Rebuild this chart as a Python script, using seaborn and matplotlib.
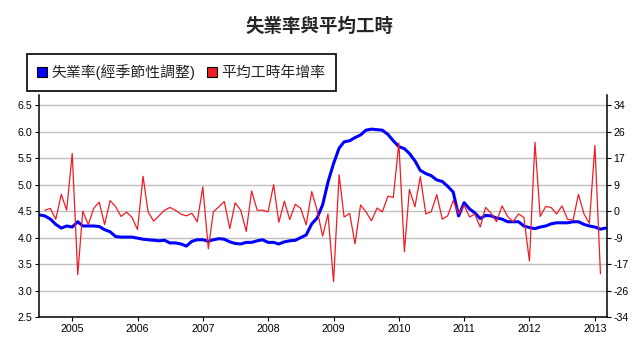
import pandas as pd
import matplotlib.pyplot as plt
import matplotlib.dates as mdates
from matplotlib.patches import Patch
import seaborn as sns

sns.set_style("ticks")
plt.rcParams['font.family'] = ['Liberation Sans', 'Noto Sans CJK TC', 'DejaVu Sans']

title = "失業率與平均工時"
label_unemp = "失業率(經季節性調整)"
label_hours = "平均工時年增率"

# seasonally adjusted unemployment rate (%), monthly from 2004-07 (left axis)
unemp_start = "2004-07-01"
unemp = [
    4.43, 4.41, 4.35, 4.25, 4.18, 4.22,
    4.20, 4.30, 4.22, 4.22, 4.22, 4.21, 4.15, 4.11, 4.02, 4.01, 4.01, 4.01,
    3.99, 3.97, 3.96, 3.95, 3.94, 3.95, 3.90, 3.90, 3.88, 3.84, 3.93, 3.96,
    3.96, 3.93, 3.96, 3.98, 3.97, 3.92, 3.89, 3.88, 3.91, 3.91, 3.94, 3.96,
    3.91, 3.91, 3.88, 3.92, 3.94, 3.95, 4.00, 4.05, 4.26, 4.37, 4.62, 5.05,
    5.40, 5.69, 5.81, 5.83, 5.89, 5.94, 6.03, 6.05, 6.04, 6.03, 5.95, 5.83,
    5.72, 5.68, 5.59, 5.45, 5.27, 5.21, 5.17, 5.09, 5.06, 4.97, 4.86, 4.41,
    4.66, 4.54, 4.47, 4.36, 4.42, 4.41, 4.37, 4.35, 4.30, 4.30, 4.30, 4.22,
    4.19, 4.17, 4.20, 4.22, 4.26, 4.28, 4.28, 4.28, 4.30, 4.30, 4.25, 4.22,
    4.20, 4.16, 4.18,
]

# average working hours, year-on-year change (%), monthly from 2004-08 (right axis)
hours_start = "2004-08-01"
hours_yoy = [
    0.3, 0.9, -2.6, 5.4, 0.3,
    18.5, -20.4, 0.0, -4.3, 0.9, 2.9, -4.3, 3.4, 1.4, -1.7, -0.3, -2.0,
    -5.9, 11.2, -0.2, -3.2, -1.5, 0.3, 1.2, 0.3, -1.0, -1.5, -0.7, -3.4,
    7.8, -12.1, -0.2, 1.4, 3.1, -5.6, 2.7, 0.3, -6.5, 6.5, 0.3, 0.3,
    -0.2, 8.5, -3.6, 3.2, -2.7, 2.2, 0.9, -4.4, 6.3, 0.3, -8.0, -0.9,
    -22.6, 11.7, -1.9, -0.7, -10.5, 2.0, -0.2, -3.1, 1.0, -0.2, 4.8, 4.4,
    21.9, -13.0, 7.0, 1.4, 11.1, -0.9, -0.2, 5.3, -2.6, -1.5, 3.4, -0.9,
    1.9, -1.9, -0.9, -5.1, 1.2, -0.7, -3.4, 1.7, -1.7, -3.4, -0.9, -2.0,
    -16.0, 22.1, -1.7, 1.5, 1.2, -0.9, 1.7, -2.6, -2.9, 5.4, -0.9, -3.9,
    21.1, -20.1,
]

left_ticks = [2.5, 3.0, 3.5, 4.0, 4.5, 5.0, 5.5, 6.0, 6.5]
right_ticks = [-34, -25.5, -17, -8.5, 0, 8.5, 17, 25.5, 34]
right_labels = ["-34", "-26", "-17", "-9", "0", "9", "17", "26", "34"]
years = list(range(2005, 2014))

df_u = pd.DataFrame({
    "date": pd.date_range(unemp_start, periods=len(unemp), freq="MS"),
    "rate": unemp,
})
df_h = pd.DataFrame({
    "date": pd.date_range(hours_start, periods=len(hours_yoy), freq="MS"),
    "yoy": hours_yoy,
})

blue = "#0000ff"
red = "#f01c24"

fig = plt.figure(figsize=(6.38, 3.51), dpi=100)
ax = fig.add_axes([39.3 / 638, 34 / 351, 567.4 / 638, 222 / 351])
ax2 = ax.twinx()

sns.lineplot(data=df_u, x="date", y="rate", ax=ax, color=blue, linewidth=2.2)
sns.lineplot(data=df_h, x="date", y="yoy", ax=ax2, color=red, linewidth=0.9)

# left / right scales line up: 4.5 <-> 0, 0.5 <-> 8.5
ylo, yhi = 2.5, 6.695
ax.set_ylim(ylo, yhi)
ax2.set_ylim((ylo - 4.5) * 17, (yhi - 4.5) * 17)
ax.set_xlim(pd.Timestamp("2004-07-01"), pd.Timestamp("2013-03-08"))

ax.set_yticks(left_ticks)
ax.set_yticklabels([f"{t:.1f}" for t in left_ticks])
ax2.set_yticks(right_ticks)
ax2.set_yticklabels(right_labels)
ax.set_xticks([pd.Timestamp(f"{y}-01-01") for y in years])
ax.xaxis.set_major_formatter(mdates.DateFormatter("%Y"))

ax.yaxis.grid(True, color="#c0c0c0", linewidth=1.0)
ax.set_axisbelow(True)
ax.set_xlabel("")
ax.set_ylabel("")
ax2.set_ylabel("")

for a in (ax, ax2):
    a.spines["top"].set_visible(False)
    for s in ("left", "right", "bottom"):
        a.spines[s].set_color("black")
        a.spines[s].set_linewidth(1.1)
    a.tick_params(direction="out", length=3, width=0.8, colors="black",
                  labelsize=7.7, pad=2)
ax.spines["right"].set_visible(False)
ax2.spines["left"].set_visible(False)
ax2.spines["bottom"].set_visible(False)

fig.text(0.5, 1 - 27 / 351, title, ha="center", va="center",
         fontsize=13.3, fontweight="bold")

handles = [
    Patch(facecolor=blue, edgecolor="black", linewidth=0.8),
    Patch(facecolor=red, edgecolor="black", linewidth=0.8),
]
leg = fig.legend(handles, [label_unemp, label_hours], loc="upper left",
                 bbox_to_anchor=(27 / 638, 1 - 54 / 351),
                 bbox_transform=fig.transFigure, ncol=2, frameon=True,
                 fancybox=False, edgecolor="black", framealpha=1,
                 fontsize=10.7, handlelength=0.67, handleheight=0.67,
                 handletextpad=0.3, columnspacing=0.75, borderpad=0.7,
                 borderaxespad=0)
leg.get_frame().set_linewidth(1.2)

fig.savefig("out.png", dpi=100)
